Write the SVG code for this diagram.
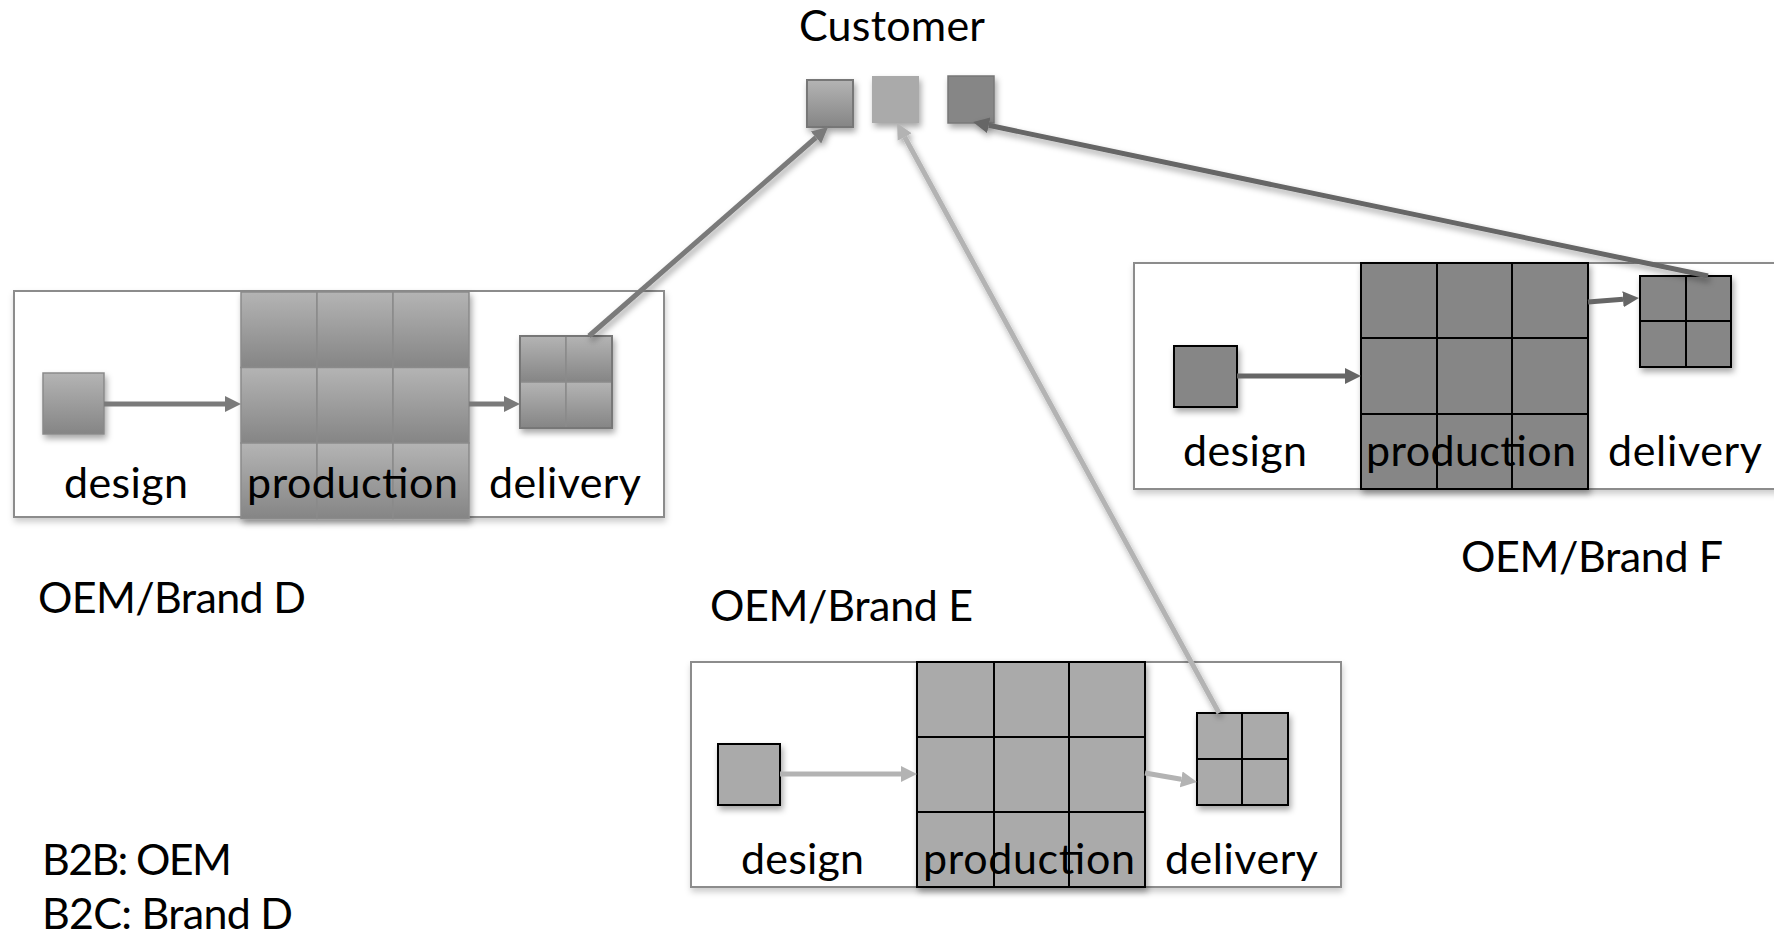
<svg xmlns="http://www.w3.org/2000/svg" width="1774" height="937" viewBox="0 0 1774 937">
<defs>
<style>
text{font-family:Lato,"Open Sans","Liberation Sans",sans-serif;font-size:43px;fill:#000;}
.box{fill:#fff;stroke:#8c8c8c;stroke-width:2;}
.dcell{fill:url(#gD);stroke:#8a8a8a;stroke-width:1.5;}
.eFill{fill:#aaaaaa;stroke:#000;stroke-width:2;}
.fFill{fill:#868686;stroke:#000;stroke-width:2;}
.grid{stroke:#000;stroke-width:2;fill:none;}
.aD{stroke:#7a7a7a;stroke-width:5;fill:none;}
.aE{stroke:#b3b3b3;stroke-width:5;fill:none;}
.aF{stroke:#666;stroke-width:5;fill:none;}
</style>
<linearGradient id="gD" x1="0" y1="0" x2="0" y2="1">
<stop offset="0" stop-color="#b4b4b4"/>
<stop offset="1" stop-color="#858585"/>
</linearGradient>
<filter id="sh" x="-20%" y="-20%" width="140%" height="150%">
<feDropShadow dx="2" dy="4" stdDeviation="3" flood-color="#000" flood-opacity="0.35"/>
</filter>
<filter id="shBox" x="-5%" y="-10%" width="110%" height="125%">
<feDropShadow dx="1" dy="4" stdDeviation="3" flood-color="#000" flood-opacity="0.2"/>
</filter>
<marker id="mD" markerUnits="userSpaceOnUse" markerWidth="17" markerHeight="17" refX="0" refY="8" orient="auto"><path d="M0,0 L16,8 L0,16 z" fill="#7a7a7a"/></marker>
<marker id="mE" markerUnits="userSpaceOnUse" markerWidth="17" markerHeight="17" refX="0" refY="8" orient="auto"><path d="M0,0 L16,8 L0,16 z" fill="#b3b3b3"/></marker>
<marker id="mF" markerUnits="userSpaceOnUse" markerWidth="17" markerHeight="17" refX="0" refY="8" orient="auto"><path d="M0,0 L16,8 L0,16 z" fill="#666"/></marker>
</defs>
<rect width="1774" height="937" fill="#fff"/>

<g id="customer">
<text x="799" y="41" textLength="186">Customer</text>
<rect x="807" y="80" width="46" height="47" fill="url(#gD)" stroke="#777" stroke-width="2" filter="url(#sh)"/>
<rect x="872" y="76" width="47" height="47" fill="#aaaaaa" filter="url(#sh)"/>
<rect x="948" y="76" width="46" height="47" fill="#868686" stroke="#777" stroke-width="1.5" filter="url(#sh)"/>
</g>

<g id="oemD">
<rect class="box" x="14" y="291" width="650" height="226" filter="url(#shBox)"/>
<rect class="dcell" x="43" y="373" width="61" height="61" filter="url(#sh)"/>
<g filter="url(#sh)">
<rect class="dcell" x="241" y="292" width="76" height="75.5"/>
<rect class="dcell" x="317" y="292" width="76" height="75.5"/>
<rect class="dcell" x="393" y="292" width="76" height="75.5"/>
<rect class="dcell" x="241" y="367.5" width="76" height="75.5"/>
<rect class="dcell" x="317" y="367.5" width="76" height="75.5"/>
<rect class="dcell" x="393" y="367.5" width="76" height="75.5"/>
<rect class="dcell" x="241" y="443" width="76" height="75.5"/>
<rect class="dcell" x="317" y="443" width="76" height="75.5"/>
<rect class="dcell" x="393" y="443" width="76" height="75.5"/>
</g>
<g filter="url(#sh)">
<rect class="dcell" x="520" y="336" width="46" height="46"/>
<rect class="dcell" x="566" y="336" width="46" height="46"/>
<rect class="dcell" x="520" y="382" width="46" height="46"/>
<rect class="dcell" x="566" y="382" width="46" height="46"/>
<rect x="520" y="336" width="92" height="92" fill="none" stroke="#777" stroke-width="2"/>
</g>
<text x="64" y="498" textLength="124">design</text>
<text x="247" y="498" textLength="211">production</text>
<text x="489" y="498" textLength="152">delivery</text>
<text x="38" y="613" textLength="268">OEM/Brand D</text>
</g>

<g id="oemE">
<rect class="box" x="691" y="662" width="650" height="225" filter="url(#shBox)"/>
<rect class="eFill" x="718" y="744" width="62" height="61" filter="url(#sh)"/>
<rect class="eFill" x="917" y="662" width="228" height="225" filter="url(#sh)"/>
<path class="grid" d="M994,662V887M1069,662V887M917,737H1145M917,812H1145"/>
<rect class="eFill" x="1197" y="713" width="91" height="92" filter="url(#sh)"/>
<path class="grid" d="M1242,713V805M1197,759H1288"/>
<text x="741" y="874" textLength="123">design</text>
<text x="923" y="874" textLength="212">production</text>
<text x="1165" y="874" textLength="153">delivery</text>
<text x="710" y="621" textLength="263">OEM/Brand E</text>
</g>

<g id="oemF">
<rect class="box" x="1134" y="263" width="660" height="226" filter="url(#shBox)"/>
<rect class="fFill" x="1174" y="346" width="63" height="61" filter="url(#sh)"/>
<rect class="fFill" x="1361" y="263" width="227" height="226" filter="url(#sh)"/>
<path class="grid" d="M1437,263V489M1512,263V489M1361,338H1588M1361,414H1588"/>
<rect class="fFill" x="1640" y="276" width="91" height="91" filter="url(#sh)"/>
<path class="grid" d="M1686,276V367M1640,321H1731"/>
<text x="1183" y="466" textLength="124">design</text>
<text x="1366" y="466" textLength="210">production</text>
<text x="1608" y="466" textLength="154">delivery</text>
<text x="1461" y="572" textLength="262">OEM/Brand F</text>
</g>

<g id="legend">
<text x="42" y="875" textLength="190">B2B: OEM</text>
<text x="42" y="929" textLength="251">B2C: Brand D</text>
</g>

<g id="connectors">
<line class="aD" x1="104" y1="404" x2="225" y2="404" marker-end="url(#mD)"/>
<line class="aD" x1="469" y1="404" x2="504" y2="404" marker-end="url(#mD)"/>
<line class="aD" x1="589" y1="336" x2="816" y2="137.5" marker-end="url(#mD)" filter="url(#sh)"/>
<line class="aE" x1="780" y1="774" x2="901" y2="774" marker-end="url(#mE)"/>
<line class="aE" x1="1145" y1="773" x2="1181.2" y2="779.3" marker-end="url(#mE)"/>
<line class="aE" x1="1219" y1="713" x2="904.7" y2="137" marker-end="url(#mE)" filter="url(#sh)"/>
<line class="aF" x1="1237" y1="376" x2="1345" y2="376" marker-end="url(#mF)"/>
<line class="aF" x1="1588" y1="302" x2="1623" y2="299.3" marker-end="url(#mF)"/>
<line class="aF" x1="1708" y1="276" x2="988.7" y2="125.3" marker-end="url(#mF)" filter="url(#sh)"/>
</g>
</svg>
